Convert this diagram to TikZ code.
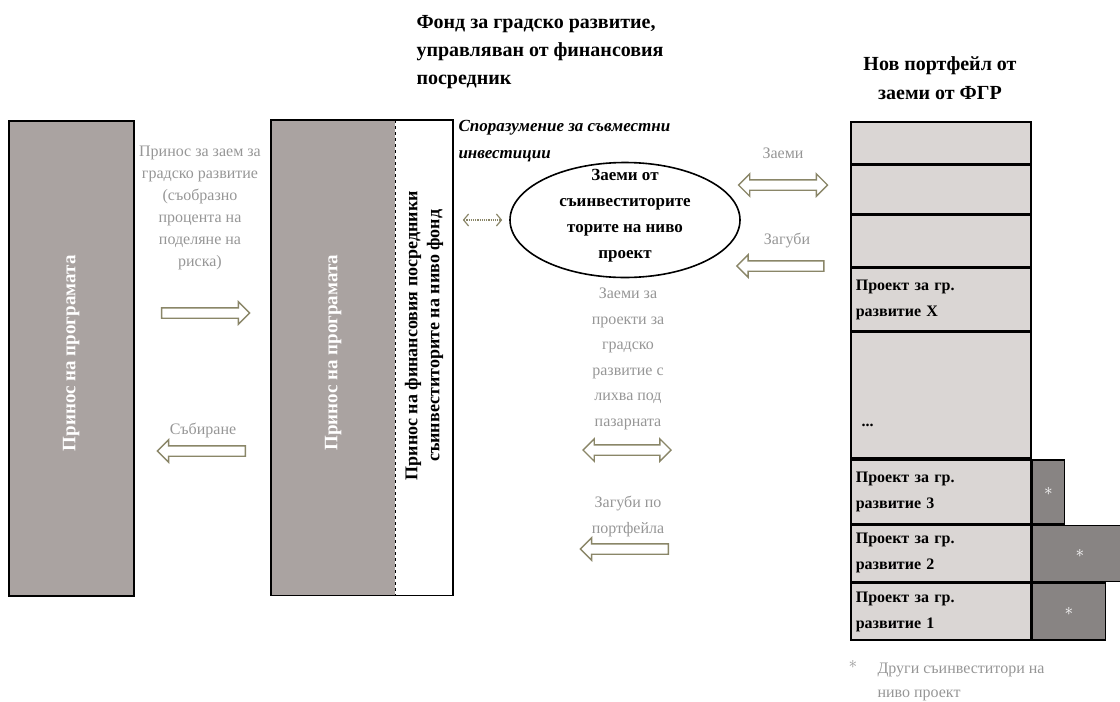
\documentclass[tikz,border=0pt]{standalone}
\usepackage{fontspec}
\setmainfont{Liberation Serif}
\usetikzlibrary{positioning,calc,shapes.geometric,shapes.arrows,arrows.meta}
\definecolor{tamen}{RGB}{170,163,161}
\definecolor{svetal}{RGB}{218,214,212}
\definecolor{sreden}{RGB}{136,132,131}
\definecolor{maslina}{RGB}{138,134,104}
\definecolor{siv}{RGB}{150,150,150}
\begin{document}
\begin{tikzpicture}[x=1pt,y=-1pt,
  kutiya/.style={fill=tamen,minimum width=125pt,minimum height=475pt,inner sep=0pt,anchor=north west},
  kletka/.style={draw,line width=1.6pt,fill=svetal,minimum width=180pt,text width=170pt,inner xsep=5pt,inner ysep=0pt,align=left,anchor=north west,font=\bfseries\fontsize{16}{26}\selectfont},
  dop/.style={draw,line width=1.6pt,fill=sreden,text=white,inner sep=0pt,font=\fontsize{16}{16}\selectfont},
  sivtekst/.style={text=siv,align=center,font=\fontsize{16}{22}\selectfont},
  strelka/.style={draw=maslina,line width=1.4pt,fill=white,inner xsep=0pt,inner ysep=4.5pt,minimum height=88pt},
  napred/.style={strelka,single arrow,single arrow head extend=6pt},
  nazad/.style={napred,shape border rotate=180},
  dvete/.style={strelka,double arrow,double arrow head extend=6pt}]
\useasboundingbox (0,0) rectangle (1120,702);
% заглавия
\node[anchor=west,align=left,font=\bfseries\fontsize{20}{28}\selectfont] (fgr) at (413,52) {Фонд за градско развитие,\\управляван от финансовия\\посредник};
\node[align=center,font=\bfseries\fontsize{20}{29}\selectfont] (nov) at (940,78) {Нов портфейл от\\заеми от ФГР};
% лява колона
\node[kutiya,draw,line width=1.6pt] (programa) at (8,120) {};
\node[rotate=90,text=white,font=\bfseries\fontsize{19}{19}\selectfont] at ($(programa.center)+(0,-5)$) {Принос на програмата};
% фонд
\node[kutiya,minimum width=124pt] (fond) at (271,120) {};
\node[kutiya,fill=white,minimum width=57pt,right=0pt of fond] (posrednik) {};
\draw[line width=1.6pt] (fond.north west) rectangle (posrednik.south east);
\draw[dashed,line width=.8pt] (posrednik.north west) -- (posrednik.south west);
\node[rotate=90,text=white,font=\bfseries\fontsize{19}{19}\selectfont] at ($(fond.center)+(0,-5)$) {Принос на програмата};
\node[rotate=90,align=center,font=\bfseries\fontsize{18}{22}\selectfont] at ($(posrednik.center)+(0,-22)$) {Принос на финансовия посредники\\съинвеститорите на ниво фонд};
% споразумение
\node[anchor=west,align=left,font=\bfseries\itshape\fontsize{17}{27}\selectfont] (sporaz) at (455,141) {Споразумение за съвместни\\инвестиции};
\node[ellipse,draw,line width=1.6pt,minimum width=230pt,minimum height=115pt,inner sep=0pt] (suinv) at (625,220) {};
\node[align=center,font=\bfseries\fontsize{17}{26}\selectfont] at ($(suinv.center)+(0,-4)$) {Заеми от\\съинвеститорите\\торите на ниво\\проект};
\draw[maslina,densely dotted,line width=1.2pt,{Straight Barb[length=5pt,width=12pt]}-{Straight Barb[length=5pt,width=12pt]},shorten <=10pt,shorten >=7pt] (posrednik.east |- suinv.west) -- (suinv.west);
% стрелки
\node[napred] (dava) at (203,313) {};
\node[nazad] (sabira) at (204,451) {};
\node[dvete,minimum height=89pt] (zaemi) at (783,185) {};
\node[nazad,minimum height=87pt] (zagubi) at (783,266) {};
\node[dvete] (lihva) at (627,450) {};
\node[nazad] (portfeil) at (627,549) {};
% надписи
\node[sivtekst] at (200,208) {Принос за заем за\\градско развитие\\(съобразно\\процента на\\поделяне на\\риска)};
\node[sivtekst] at (203,430) {Събиране};
\node[sivtekst,font=\fontsize{16}{25.5}\selectfont] at (628,359) {Заеми за\\проекти за\\градско\\развитие с\\лихва под\\пазарната};
\node[sivtekst,font=\fontsize{16}{26}\selectfont] at (628,516) {Загуби по\\портфейла};
\node[sivtekst] at (783,153) {Заеми};
\node[sivtekst] at (787,240) {Загуби};
% портфейл
\node[kletka,minimum height=42pt] (k1) at (850,121) {};
\node[kletka,minimum height=48pt,below=0pt of k1] (k2) {};
\node[kletka,minimum height=52pt,below=0pt of k2] (k3) {};
\node[kletka,minimum height=62pt,below=0pt of k3] (k4) {Проект за гр.\\развитие X};
\node[kletka,minimum height=126pt,below=0pt of k4] (k5) {};
\node[kletka,minimum height=64pt,below=0pt of k5] (k6) {Проект за гр.\\развитие 3};
\node[kletka,minimum height=56pt,below=0pt of k6] (k7) {Проект за гр.\\развитие 2};
\node[kletka,minimum height=57pt,below=0pt of k7] (k8) {Проект за гр.\\развитие 1};
\node[anchor=west,font=\bfseries\fontsize{16}{16}\selectfont] at ($(k5.south west)+(8,-34)$) {...};
\node[dop,minimum width=32pt,minimum height=64pt,right=0pt of k6] (d3) {$\ast$};
\node[dop,minimum width=95pt,minimum height=56pt,right=0pt of k7] (d2) {$\ast$};
\node[dop,minimum width=73pt,minimum height=57pt,right=0pt of k8] (d1) {$\ast$};
% бележка
\node[text=siv,font=\fontsize{16}{16}\selectfont] at (853,664) {$\ast$};
\node[anchor=west,align=left,text=siv,font=\fontsize{16}{24}\selectfont] at (874,682) {Други съинвеститори на\\ниво проект};
\end{tikzpicture}
\end{document}
